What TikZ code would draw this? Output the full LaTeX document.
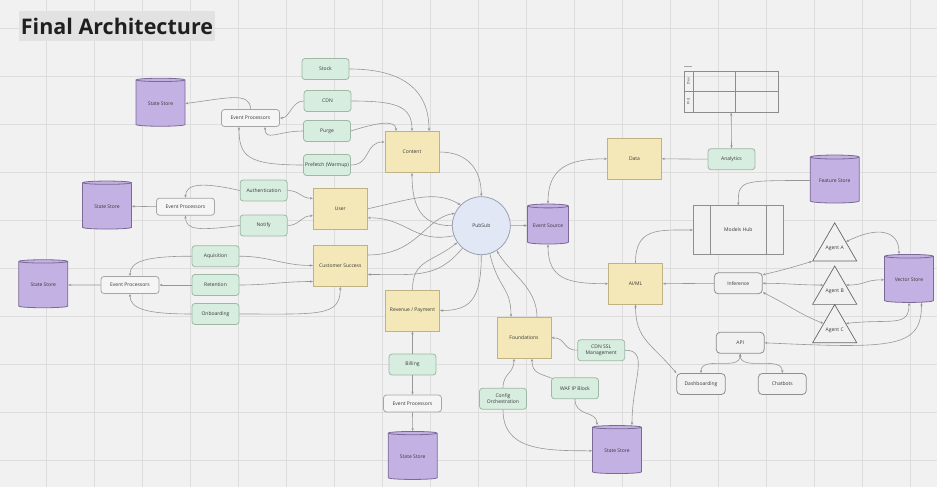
\documentclass[tikz,border=0pt]{standalone}
\usepackage{fontspec}
\setmainfont{Open Sans}
\usetikzlibrary{shapes.geometric,arrows.meta,calc}
\definecolor{bg}{HTML}{F1F1F1}
\definecolor{gridc}{HTML}{DDDDDD}
\definecolor{titlebg}{HTML}{E2E2E2}
\definecolor{gfill}{HTML}{D7EDDF}
\definecolor{gline}{HTML}{9DB8A6}
\definecolor{yfill}{HTML}{F4E8B8}
\definecolor{yline}{HTML}{BFB386}
\definecolor{pfill}{HTML}{C4B1E3}
\definecolor{pline}{HTML}{7A6A96}
\definecolor{bfill}{HTML}{E1E7F4}
\definecolor{bline}{HTML}{98A0B2}
\definecolor{wfill}{HTML}{F5F5F5}
\definecolor{wline}{HTML}{A5A5A5}
\definecolor{dline}{HTML}{8E8E8E}
\definecolor{eline}{HTML}{979797}
\definecolor{txt}{HTML}{383838}
\begin{document}
\begin{tikzpicture}[x=1pt,y=-1pt,
  lbl/.style={font=\fontsize{5}{6}\selectfont, text=txt, inner sep=1pt, align=center},
  gbox/.style={lbl, rectangle, rounded corners=3pt, fill=gfill, draw=gline, line width=0.8pt, minimum width=47pt, minimum height=21pt},
  ybox/.style={lbl, rectangle, fill=yfill, draw=yline, line width=0.8pt, minimum width=54pt, minimum height=41pt},
  wbox/.style={lbl, rectangle, rounded corners=3pt, fill=wfill, draw=wline, line width=0.8pt, minimum width=58pt, minimum height=17pt},
  obox/.style={lbl, rectangle, rounded corners=4pt, fill=bg, draw=dline, line width=0.8pt, minimum width=48pt, minimum height=21pt},
  store/.style={lbl, cylinder, shape border rotate=90, aspect=0.12, fill=pfill, draw=pline, line width=0.8pt, minimum width=49pt, minimum height=48pt},
  agent/.style={lbl, regular polygon, regular polygon sides=3, minimum size=46.7pt, inner sep=0pt, fill=bg, draw=black!60, line width=0.7pt},
  conn/.style={draw=eline, line width=0.6pt},
  arr/.style={conn, -{Stealth[length=3pt,width=2.4pt]}},
  darr/.style={conn, {Stealth[length=3pt,width=2.4pt]}-{Stealth[length=3pt,width=2.4pt]}}]
\fill[bg] (0,0) rectangle (937,487);
\useasboundingbox (0,0) rectangle (937,487);
\foreach \i in {0,...,18} \draw[gridc, line width=0.9pt] (46.5+48*\i,0) -- (46.5+48*\i,487);
\foreach \j in {0,...,9} \draw[gridc, line width=0.9pt] (0,28+48*\j) -- (937,28+48*\j);

\node[fill=titlebg, minimum width=196pt, minimum height=30pt, inner sep=0pt, text=black!88, font=\fontsize{21.5}{24}\selectfont\bfseries] (title) at (117,26) {Final Architecture};

% Content cluster
\node[store] (ss1) at (160.5,103.5) {State Store};
\node[wbox] (ep1) at (250.5,118) {Event Processors};
\node[gbox] (stock) at (325.5,69) {Stock};
\node[gbox] (cdn) at (327.5,101) {CDN};
\node[gbox] (purge) at (327,131) {Purge};
\node[gbox] (prefetch) at (327,165) {Prefetch (Warmup)};
\node[ybox] (content) at (412,152) {Content};
% User cluster
\node[store] (ss2) at (107,206.3) {State Store};
\node[wbox] (ep2) at (185.5,206.7) {Event Processors};
\node[gbox] (auth) at (263.7,190.5) {Authentication};
\node[gbox] (notify) at (263.7,225.5) {Notify};
\node[ybox] (user) at (340.3,208.8) {User};
% Customer success cluster
\node[store] (ss3) at (43.3,285) {State Store};
\node[wbox] (ep3) at (130,285) {Event Processors};
\node[gbox] (aq) at (215.5,256.2) {Aquisition};
\node[gbox] (ret) at (215.5,285) {Retention};
\node[gbox] (onb) at (215.5,314) {Onboarding};
\node[ybox] (cs) at (340.3,266) {Customer Success};
% centre
\node[lbl, circle, minimum size=58pt, fill=bfill, draw=bline, line width=0.8pt] (pubsub) at (481.3,225.7) {PubSub};
\node[store, minimum width=41pt, minimum height=40pt] (es) at (548,225.5) {Event Source};
% revenue
\node[ybox] (rp) at (412.5,310.5) {Revenue / Payment};
\node[gbox] (billing) at (412.5,364.5) {Billing};
\node[wbox] (ep4) at (412.5,403.5) {Event Processors};
\node[store] (ss4) at (412.7,456.7) {State Store};
% foundations
\node[ybox] (found) at (524,337.8) {Foundations};
\node[gbox] (config) at (503,398.8) {Config\\Orchestration};
\node[gbox] (waf) at (575,388.3) {WAF IP Block};
\node[gbox] (cdnssl) at (601.2,350.2) {CDN SSL\\Management};
\node[store] (ss5) at (617,450.8) {State Store};
% data / AI
\node[ybox] (data) at (634.5,158.8) {Data};
\node[gbox] (analytics) at (731.5,159.2) {Analytics};
\node[draw=black!45, line width=0.8pt, minimum width=94.3pt, minimum height=41.3pt, inner sep=0pt] (tbl) at (731.2,91.7) {};
\draw[black!45, line width=0.8pt] ($(tbl.north west)+(9.3,0)$) -- ($(tbl.south west)+(9.3,0)$);
\draw[black!45, line width=0.8pt] ($(tbl.north west)+(51.7,0)$) -- ($(tbl.south west)+(51.7,0)$);
\draw[black!45, line width=0.8pt] (tbl.west) -- (tbl.east);
\draw[black!35, line width=0.8pt] ($(tbl.north west)+(0,-4)$) -- ($(tbl.north west)+(8,-4)$);
\node[lbl, rotate=90, font=\fontsize{3.5}{4}\selectfont, inner sep=0pt] (tq1) at ($(tbl.north west)+(4.7,10.3)$) {Dev};
\node[lbl, rotate=90, font=\fontsize{3.5}{4}\selectfont, inner sep=0pt] (tq2) at ($(tbl.north west)+(4.7,31)$) {Prd};
\node[lbl, draw=dline, fill=bg, line width=0.8pt, minimum width=90pt, minimum height=48.6pt] (mh) at (738.3,230) {Models Hub};
\draw[dline, line width=0.8pt] ($(mh.north west)+(17.7,0)$) -- ($(mh.south west)+(17.7,0)$);
\draw[dline, line width=0.8pt] ($(mh.north east)+(-17.6,0)$) -- ($(mh.south east)+(-17.6,0)$);
\node[store] (fs) at (834.7,180.5) {Feature Store};
\node[ybox] (aiml) at (635.5,283.7) {AI/ML};
\node[obox] (inf) at (738.3,283.3) {Inference};
\node[agent] (agA) at (834.7,248.3) {Agent A};
\node[agent] (agB) at (834.7,291.6) {Agent B};
\node[agent] (agC) at (834.7,330) {Agent C};
\node[store] (vs) at (909,279.8) {Vector Store};
\node[obox] (api) at (740.2,342.8) {API};
\node[obox, minimum width=48.6pt] (dash) at (701,384) {Dashboarding};
\node[obox] (chat) at (782.3,384) {Chatbots};

% ---- connectors ----
\draw[arr] (stock.east) .. controls +(55,0) and +(0,-40) .. ($(content.north)+(17,0)$);
\draw[arr] (cdn.east) .. controls +(45,0) and +(0,-25) .. (content.north);
\draw[arr] (purge.east) .. controls +(25,-8) and +(0,-12) .. ($(content.north)+(-16,0)$);
\draw[arr] (prefetch.east) .. controls +(20,0) and +(-20,0) .. ($(content.west)+(0,-10)$);
\draw[arr] (cdn.west) .. controls +(-12,0) and +(10,0) .. (ep1.east);
\draw[arr] (purge.west) .. controls +(-25,0) and +(0,15) .. ($(ep1.south)+(14.5,0)$);
\draw[arr] (prefetch.west) .. controls +(-55,0) and +(0,30) .. ($(ep1.south)+(-11.5,0)$);
\draw[arr] (ep1.north) .. controls +(0,-18) and +(40,-5) .. (ss1.east);
\draw[arr] (content.east) .. controls +(30,0) and +(0,-25) .. (pubsub.north);
\draw[arr] (pubsub.west) .. controls +(-30,0) and +(0,35) .. (content.south);

\draw[arr] (auth.east) .. controls +(12,0) and +(-12,0) .. ($(user.west)+(0,-10.5)$);
\draw[arr] (notify.east) .. controls +(12,0) and +(-12,0) .. ($(user.west)+(0,7)$);
\draw[arr] (auth.west) .. controls +(-35,-8) and +(0,-15) .. (ep2.north);
\draw[arr] (notify.west) .. controls +(-40,5) and +(0,15) .. (ep2.south);
\draw[arr] (ep2.west) -- (ss2.east);
\draw[arr] (user.east) .. controls +(45,-10) and +(-25,-15) .. (pubsub.135);
\draw[arr] (pubsub.200) .. controls +(-40,8) and +(40,0) .. ($(user.east)+(0,9)$);

\draw[arr] (aq.east) .. controls +(30,0) and +(-30,0) .. ($(cs.west)+(0,-0.5)$);
\draw[arr] (ret.east) .. controls +(30,0) and +(-30,0) .. ($(cs.west)+(0,15.5)$);
\draw[arr] (onb.east) .. controls +(80,0) and +(0,30) .. (cs.south);
\draw[arr] (aq.west) .. controls +(-45,0) and +(0,-15) .. (ep3.north);
\draw[arr] (ret.west) -- (ep3.east);
\draw[arr] (onb.west) .. controls +(-45,0) and +(0,15) .. (ep3.south);
\draw[arr] (ep3.west) -- (ss3.east);
\draw[arr] ($(cs.east)+(0,-11)$) .. controls +(50,0) and +(-30,5) .. (pubsub.155);
\draw[arr] (pubsub.230) .. controls +(-25,30) and +(50,0) .. ($(cs.east)+(0,8.5)$);

\draw[arr] (rp.north) .. controls +(0,-30) and +(-25,20) .. (pubsub.215);
\draw[arr] (pubsub.south) .. controls +(0,45) and +(30,0) .. (rp.east);
\draw[arr] (billing.north) -- (rp.south);
\draw[arr] (billing.south) -- (ep4.north);
\draw[arr] (ep4.south) -- (ss4.north);

\draw[arr] (pubsub.287) .. controls +(8,35) and +(0,-30) .. ($(found.north)+(-13,0)$);
\draw[arr] ($(found.north)+(13,0)$) .. controls +(0,-30) and +(12,22) .. (pubsub.302);
\draw[arr] (cdnssl.west) .. controls +(-15,0) and +(15,0) .. (found.east);
\draw[arr] ($(waf.north west)+(1,1)$) .. controls +(-12,-5) and +(0,15) .. ($(found.south)+(8,0)$);
\draw[arr] (config.north) .. controls +(0,-15) and +(0,15) .. ($(found.south)+(-10,0)$);
\draw[arr] (config.south) .. controls +(0,40) and +(-50,0) .. (ss5.west);
\draw[arr] (waf.south) .. controls +(0,18) and +(0,-15) .. ($(ss5.north)+(-20,0)$);
\draw[arr] (cdnssl.east) .. controls +(25,0) and +(0,-45) .. ($(ss5.north)+(15,0)$);

\draw[arr] (pubsub.east) -- (es.west);
\draw[darr] (es.north) .. controls +(0,-35) and +(-40,0) .. (data.west);
\draw[darr] (es.south) .. controls +(0,35) and +(-40,0) .. (aiml.west);
\draw[arr] (analytics.west) -- (data.east);
\draw[darr] (tbl.south) -- (analytics.north);
\draw[arr] (aiml.north) .. controls +(0,-35) and +(-35,0) .. (mh.west);
\draw[arr] (fs.west) .. controls +(-70,0) and +(0,-25) .. (mh.north);
\draw[arr] (inf.west) -- (aiml.east);
\draw[darr] (aiml.south) .. controls +(0,35) and +(-25,-30) .. (dash.north west);
\draw[darr] (api.south) .. controls +(0,18) and +(0,-18) .. (dash.north);
\draw[darr] (api.south) .. controls +(0,18) and +(0,-18) .. (chat.north);

\draw[darr] ($(inf.east)+(0,-8.5)$) .. controls +(25,-6) and +(-20,6) .. (agA.corner 2);
\draw[darr] (inf.east) .. controls +(25,0) and +(-25,0) .. (agB.side 1);
\draw[darr] ($(inf.east)+(0,9)$) .. controls +(30,15) and +(-25,-10) .. (agC.side 1);
\draw[darr] (agA.side 3) .. controls +(30,-15) and +(0,-25) .. ($(vs.north)+(-10,0)$);
\draw[darr] (agB.side 3) .. controls +(20,0) and +(-20,0) .. (vs.west);
\draw[darr] (agC.side 3) .. controls +(45,-5) and +(0,25) .. (vs.south);
\draw[darr] (api.east) .. controls +(130,6) and +(0,45) .. ($(vs.south)+(12.5,0)$);
\end{tikzpicture}
\end{document}
